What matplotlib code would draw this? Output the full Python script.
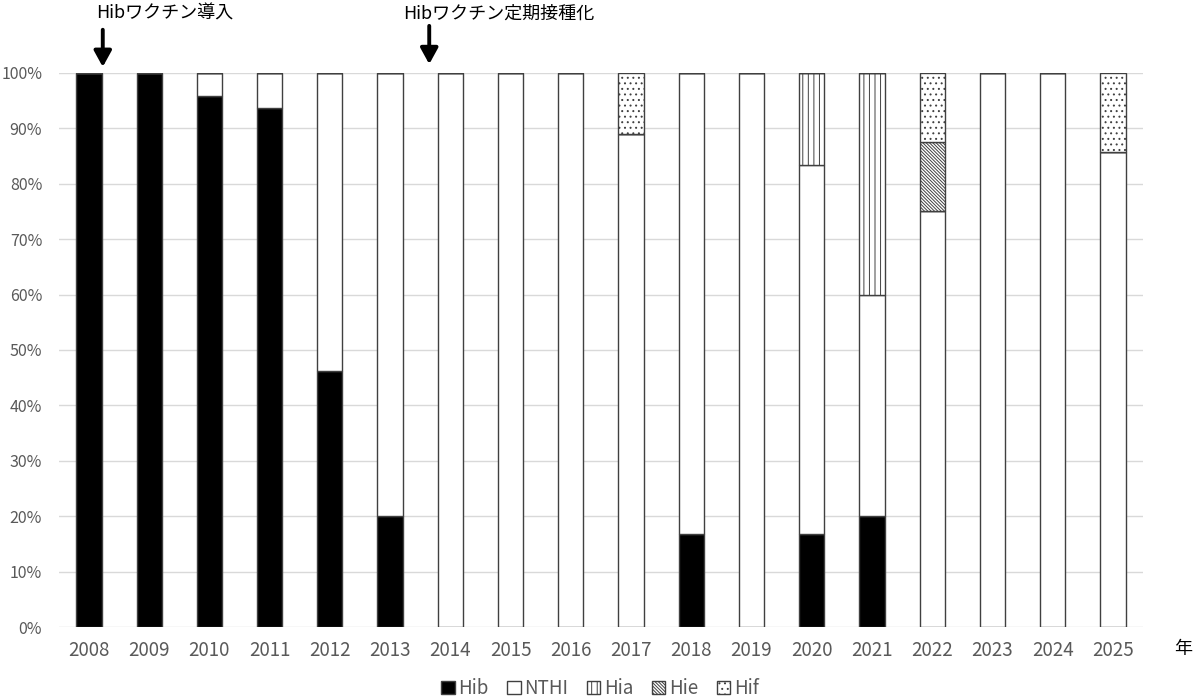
import matplotlib.pyplot as plt
import numpy as np

plt.rcParams['font.family'] = ['Noto Sans CJK JP', 'DejaVu Sans']
plt.rcParams['hatch.linewidth'] = 0.7

years = [str(y) for y in range(2008, 2026)]
hib = [100, 100, 95.8, 93.75, 46.2, 20, 0, 0, 0, 0, 16.7, 0, 16.7, 20, 0, 0, 0, 0]
nthi = [0, 0, 4.2, 6.25, 53.8, 80, 100, 100, 100, 88.9, 83.3, 100, 66.7, 40, 75, 100, 100, 85.7]
hia = [0, 0, 0, 0, 0, 0, 0, 0, 0, 0, 0, 0, 16.6, 40, 0, 0, 0, 0]
hie = [0, 0, 0, 0, 0, 0, 0, 0, 0, 0, 0, 0, 0, 0, 12.5, 0, 0, 0]
hif = [0, 0, 0, 0, 0, 0, 0, 0, 0, 11.1, 0, 0, 0, 0, 12.5, 0, 0, 14.3]

series = [
    ('Hib', hib, 'black', ''),
    ('NTHI', nthi, 'white', ''),
    ('Hia', hia, 'white', '|||'),
    ('Hie', hie, 'white', '\\' * 10),
    ('Hif', hif, 'white', '...'),
]

fig = plt.figure(figsize=(12, 6.97), dpi=100)
ax = fig.add_axes([0.049, 0.1004, 0.9035, 0.7949])

x = np.arange(len(years))
bottom = np.zeros(len(years))
for name, vals, fc, hatch in series:
    v = np.array(vals) / 100.0
    ax.bar(x, v, 0.42, bottom=bottom, color=fc, edgecolor='#404040',
           linewidth=1.0, hatch=hatch, label=name, zorder=3)
    bottom += v

ax.set_xlim(-0.5, len(years) - 0.5)
ax.set_ylim(0, 1)
ticks = np.arange(0, 1.01, 0.1)
ax.set_yticks(ticks)
ax.set_yticklabels([f'{int(round(t * 100))}%' for t in ticks])
ax.set_xticks(x)
ax.set_xticklabels(years)
ax.tick_params(axis='both', length=0, colors='#595959')
ax.tick_params(axis='x', labelsize=13.5, pad=9)
ax.tick_params(axis='y', labelsize=11.5, pad=12)
ax.grid(axis='y', color='#d9d9d9', linewidth=1, zorder=0)
for s in ax.spines.values():
    s.set_visible(False)

# arrows + notes
arrow_kw = dict(arrowstyle='-|>,head_length=0.4,head_width=0.22', color='black',
                lw=2.8, mutation_scale=24, shrinkA=0, shrinkB=0)
ax.annotate('', xy=(0.23, 1.011), xytext=(0.23, 1.078),
            arrowprops=arrow_kw, annotation_clip=False)
ax.text(0.116, 1.098, 'Hibワクチン導入', ha='left', va='baseline', fontsize=13,
        color='black')
ax.annotate('', xy=(5.65, 1.016), xytext=(5.65, 1.085),
            arrowprops=arrow_kw, annotation_clip=False)
ax.text(5.22, 1.098, 'Hibワクチン定期接種化', ha='left', va='baseline', fontsize=13,
        color='black')

fig.text(0.986, 0.069, '年', ha='center', va='center', fontsize=13, color='black')

leg = fig.legend(loc='lower center', bbox_to_anchor=(0.5, -0.027), ncol=5, frameon=False,
                 fontsize=13.5, handlelength=0.7, handleheight=0.7, handletextpad=0.2,
                 columnspacing=1.0)
for t in leg.get_texts():
    t.set_color('#595959')

fig.savefig('out.png', dpi=100)
